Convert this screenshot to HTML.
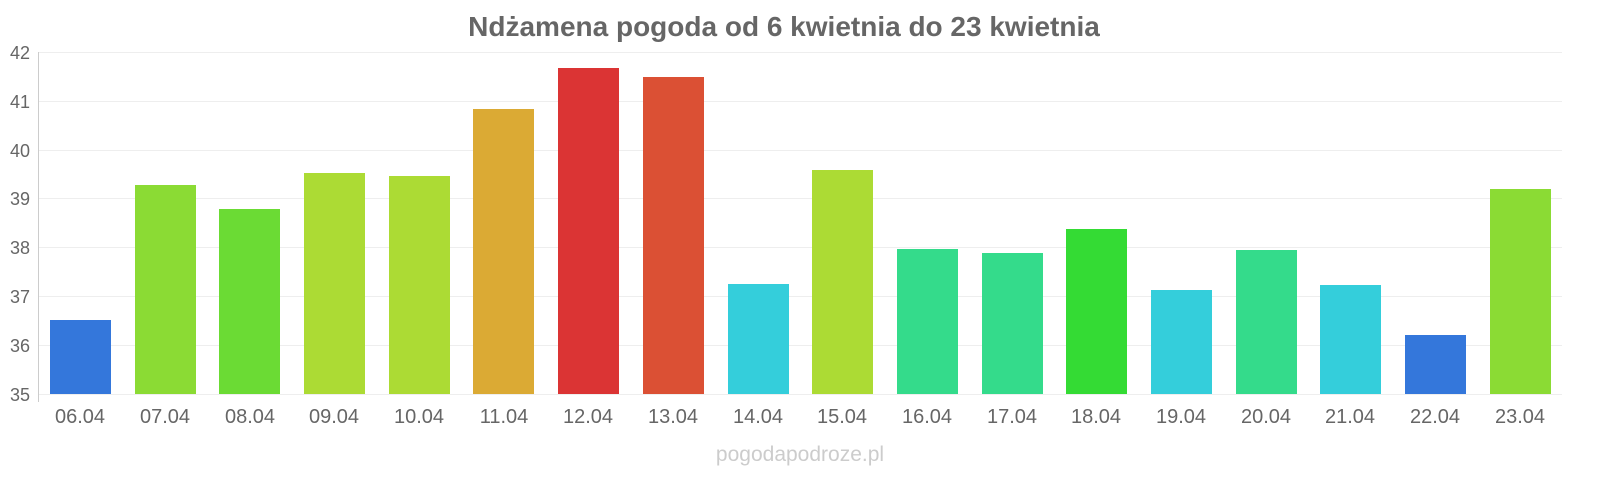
<!DOCTYPE html>
<html><head><meta charset="utf-8"><style>
body{margin:0;background:#fff;}
svg{display:block;font-family:"Liberation Sans",sans-serif;}
</style></head><body>
<svg width="1600" height="480" viewBox="0 0 1600 480">
<text x="784" y="36" text-anchor="middle" font-size="28" font-weight="bold" fill="#666">Ndżamena pogoda od 6 kwietnia do 23 kwietnia</text>
<g stroke="#eee" stroke-width="1">
<line x1="38" x2="1562" y1="52.5" y2="52.5"/>
<line x1="38" x2="1562" y1="101.5" y2="101.5"/>
<line x1="38" x2="1562" y1="150.5" y2="150.5"/>
<line x1="38" x2="1562" y1="198.5" y2="198.5"/>
<line x1="38" x2="1562" y1="247.5" y2="247.5"/>
<line x1="38" x2="1562" y1="296.5" y2="296.5"/>
<line x1="38" x2="1562" y1="345.5" y2="345.5"/>
<line x1="38" x2="1562" y1="394.5" y2="394.5"/>
</g>
<line x1="38.5" x2="38.5" y1="52" y2="402" stroke="#ccc"/>
<g font-size="18" fill="#666" text-anchor="end">
<text x="30" y="59">42</text><text x="30" y="108">41</text><text x="30" y="157">40</text><text x="30" y="205">39</text><text x="30" y="254">38</text><text x="30" y="303">37</text><text x="30" y="352">36</text><text x="30" y="401">35</text>
</g>
<g stroke-width="1">
<rect x="50" y="320" width="61" height="74" fill="#3477db"/>
<rect x="135" y="185" width="61" height="209" fill="#8bdb34"/>
<rect x="219" y="209" width="61" height="185" fill="#6bdb34"/>
<rect x="304" y="173" width="61" height="221" fill="#acdb34"/>
<rect x="389" y="176" width="61" height="218" fill="#acdb34"/>
<rect x="473" y="109" width="61" height="285" fill="#dbaa34"/>
<rect x="558" y="68" width="61" height="326" fill="#db3434"/>
<rect x="643" y="77" width="61" height="317" fill="#db5034"/>
<rect x="728" y="284" width="61" height="110" fill="#34cedb"/>
<rect x="812" y="170" width="61" height="224" fill="#acdb34"/>
<rect x="897" y="249" width="61" height="145" fill="#34db8b"/>
<rect x="982" y="253" width="61" height="141" fill="#34db8b"/>
<rect x="1066" y="229" width="61" height="165" fill="#34db34"/>
<rect x="1151" y="290" width="61" height="104" fill="#34cedb"/>
<rect x="1236" y="250" width="61" height="144" fill="#34db8b"/>
<rect x="1320" y="285" width="61" height="109" fill="#34cedb"/>
<rect x="1405" y="335" width="61" height="59" fill="#3477db"/>
<rect x="1490" y="189" width="61" height="205" fill="#8bdb34"/>
</g>
<g font-size="20" fill="#666" text-anchor="middle">
<text x="80" y="423">06.04</text><text x="165" y="423">07.04</text><text x="250" y="423">08.04</text><text x="334" y="423">09.04</text><text x="419" y="423">10.04</text><text x="504" y="423">11.04</text><text x="588" y="423">12.04</text><text x="673" y="423">13.04</text><text x="758" y="423">14.04</text><text x="842" y="423">15.04</text><text x="927" y="423">16.04</text><text x="1012" y="423">17.04</text><text x="1096" y="423">18.04</text><text x="1181" y="423">19.04</text><text x="1266" y="423">20.04</text><text x="1350" y="423">21.04</text><text x="1435" y="423">22.04</text><text x="1520" y="423">23.04</text>
</g>
<text x="800" y="461" text-anchor="middle" font-size="21" fill="#ccc">pogodapodroze.pl</text>
</svg>
</body></html>
